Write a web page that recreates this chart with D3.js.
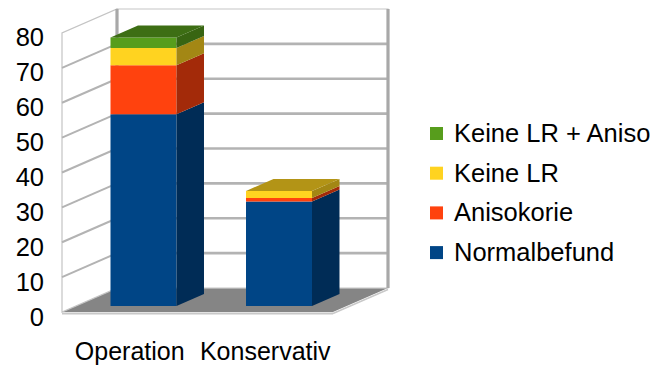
<!DOCTYPE html>
<html>
<head>
<meta charset="utf-8">
<script src="https://cdn.jsdelivr.net/npm/d3@7"></script>
<style>
  html, body { margin: 0; padding: 0; background: #fff; }
  svg { display: block; font-family: "Liberation Sans", Arial, sans-serif; }
</style>
</head>
<body>
<svg id="chart" width="672" height="365"></svg>
<script>
// Data
const categories = ["Operation", "Konservativ"];
const seriesNames = ["Normalbefund", "Anisokorie", "Keine LR", "Keine LR + Aniso"];
const normalbefund = [55, 30];
const anisokorie = [14, 1];
const keineLR = [5, 2];
const keineLRAniso = [3, 0];
const yTicks = [0, 10, 20, 30, 40, 50, 60, 70, 80];
const seriesColors = ["#004586", "#ff420e", "#ffd320", "#579d1c"];

const seriesValues = [normalbefund, anisokorie, keineLR, keineLRAniso];

// Layout of the 3D box (front plane + depth offset)
const svg = d3.select("#chart");
const frontLeft = 62, frontRight = 333, floorY = 312, topY = 33;
const depthDX = 55, depthDY = -24;

const x = d3.scaleBand().domain(categories).range([frontLeft, frontRight])
  .paddingInner(0.513).paddingOuter(0.2565);
const y = d3.scaleLinear().domain([0, 80]).range([floorY, topY]);

// project a point (front-plane x, value, depth 0..1)
const P = (px, v, d) => [px + depthDX * d, y(v) + depthDY * d];
const poly = pts => "M" + pts.map(p => p.join(",")).join("L") + "Z";

const gridCol = "#b3b3b3";

// Floor
svg.append("path")
  .attr("d", poly([P(frontLeft, 0, 0), P(frontRight, 0, 0), P(frontRight, 0, 1), P(frontLeft, 0, 1)]))
  .attr("fill", "#858585");
svg.append("line")
  .attr("x1", frontLeft).attr("x2", frontRight)
  .attr("y1", floorY + 1.5).attr("y2", floorY + 1.5)
  .attr("stroke", "#c8c8c8").attr("stroke-width", 2);
svg.append("line")
  .attr("x1", frontRight).attr("y1", floorY + 1.5)
  .attr("x2", frontRight + depthDX).attr("y2", floorY + 1.5 + depthDY)
  .attr("stroke", "#c8c8c8").attr("stroke-width", 1.5);

// Side wall (left)
svg.append("path")
  .attr("d", poly([P(frontLeft, 0, 0), P(frontLeft, 80, 0), P(frontLeft, 80, 1), P(frontLeft, 0, 1)]))
  .attr("fill", "#fff").attr("stroke", "#c4c4c4").attr("stroke-width", 1.2);

// Back wall
const bwL = P(frontLeft, 80, 1), bwR = P(frontRight, 0, 1);
svg.append("rect")
  .attr("x", bwL[0]).attr("y", bwL[1])
  .attr("width", bwR[0] - bwL[0]).attr("height", bwR[1] - bwL[1])
  .attr("fill", "#fff").attr("stroke", "#cfcfcf").attr("stroke-width", 1.2);

// Grid lines: side wall and back wall
const gridTicks = yTicks.filter(t => t > 0 && t < 80);
svg.append("g").selectAll("path").data(gridTicks).join("path")
  .attr("d", t => "M" + P(frontLeft, t, 0).join(",") + "L" + P(frontLeft, t, 1).join(","))
  .attr("stroke", gridCol).attr("stroke-width", 2).attr("fill", "none");
svg.append("g").selectAll("line").data(gridTicks).join("line")
  .attr("x1", t => P(frontLeft, t, 1)[0]).attr("x2", t => P(frontRight, t, 1)[0])
  .attr("y1", t => P(frontLeft, t, 1)[1]).attr("y2", t => P(frontRight, t, 1)[1])
  .attr("stroke", gridCol).attr("stroke-width", 2.6);
// Back wall vertical edges
[frontLeft, frontRight].forEach(px => {
  const a = P(px, 80, 1), b = P(px, 0, 1);
  svg.append("line").attr("x1", a[0]).attr("x2", b[0]).attr("y1", a[1]).attr("y2", b[1])
    .attr("stroke", "#a8a8a8").attr("stroke-width", 3.2);
});

// Stacked 3D bars
const d0 = 0.25, d1 = 0.75;
const shade = (c, k) => d3.rgb(c).darker(k).formatHex();
const bars = svg.append("g");
categories.forEach((cat, i) => {
  let base = 0;
  const segs = [];
  seriesValues.forEach((vals, s) => {
    const v = vals[i];
    if (v > 0) segs.push({ s, lo: base, hi: base + v });
    base += v;
  });
  const x0 = x(cat), x1 = x(cat) + x.bandwidth();
  const g = bars.append("g");
  segs.forEach((seg, k) => {
    const col = seriesColors[seg.s];
    // front face
    g.append("path")
      .attr("d", poly([P(x0, seg.lo, d0), P(x1, seg.lo, d0), P(x1, seg.hi, d0), P(x0, seg.hi, d0)]))
      .attr("fill", col);
    // right side face
    g.append("path")
      .attr("d", poly([P(x1, seg.lo, d0), P(x1, seg.lo, d1), P(x1, seg.hi, d1), P(x1, seg.hi, d0)]))
      .attr("fill", shade(col, 1.25));
    // top face of the topmost segment
    if (k === segs.length - 1) {
      g.append("path")
        .attr("d", poly([P(x0, seg.hi, d0), P(x1, seg.hi, d0), P(x1, seg.hi, d1), P(x0, seg.hi, d1)]))
        .attr("fill", shade(col, 1.0));
    }
  });
});

// Y axis labels
const yLab = d3.scaleLinear().domain([0, 80]).range([317, 37]);
const yAxis = svg.append("g").attr("transform", "translate(44,0)")
  .call(d3.axisLeft(yLab).tickValues(yTicks).tickSize(0).tickPadding(0));
yAxis.select(".domain").remove();
yAxis.selectAll("text").attr("font-size", 25.5).attr("fill", "#000")
  .attr("font-family", "Liberation Sans, Arial, sans-serif");

// Category labels
const xAxis = svg.append("g").attr("transform", "translate(0,342)")
  .call(d3.axisBottom(x).tickSize(0).tickPadding(0));
xAxis.select(".domain").remove();
xAxis.selectAll("text").attr("font-size", 25).attr("fill", "#000")
  .attr("font-family", "Liberation Sans, Arial, sans-serif");

// Legend (reverse stacking order)
const legendItems = seriesNames.map((n, i) => ({ n, c: seriesColors[i] })).reverse();
const legend = svg.append("g").attr("transform", "translate(430,0)");
const lg = legend.selectAll("g").data(legendItems).join("g")
  .attr("transform", (d, i) => `translate(0,${133 + i * 39.7})`);
lg.append("rect").attr("x", 0).attr("y", -6).attr("width", 13).attr("height", 13).attr("fill", d => d.c);
lg.append("text").attr("x", 24).attr("y", 0).attr("dy", "0.35em")
  .attr("font-size", 25.5).attr("fill", "#000").text(d => d.n);
</script>
</body>
</html>
